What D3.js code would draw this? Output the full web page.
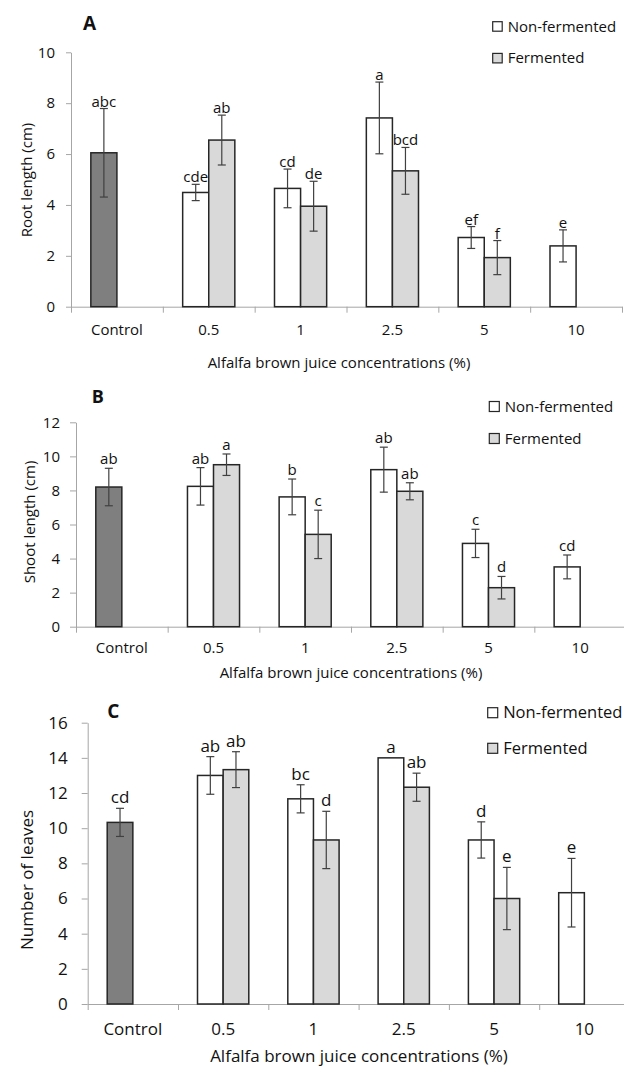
<!DOCTYPE html>
<html>
<head>
<meta charset="utf-8">
<script src="https://cdn.jsdelivr.net/npm/d3@7"></script>
<style>
  body { margin: 0; background: #fff; }
  svg { display: block; font-family: "Open Sans", sans-serif; }
</style>
</head>
<body>
<div id="chart"></div>
<script>
// categories and legend
var categories = ['Control', '0.5', '1', '2.5', '5', '10'];
var seriesNames = ['Non-fermented', 'Fermented'];

// A - root length (cm)
var rootCtrl = [6.05, null, null, null, null, null];
var rootCtrlErr = [1.74, null, null, null, null, null];
var rootCtrlLetters = ['abc', null, null, null, null, null];
var rootNon = [null, 4.49, 4.65, 7.42, 2.72, 2.39];
var rootNonErr = [null, 0.32, 0.76, 1.41, 0.43, 0.63];
var rootNonLetters = [null, 'cde', 'cd', 'a', 'ef', 'e'];
var rootFer = [null, 6.55, 3.95, 5.34, 1.93, null];
var rootFerErr = [null, 0.98, 0.98, 0.92, 0.67, null];
var rootFerLetters = [null, 'ab', 'de', 'bcd', 'f', null];

// B - shoot length (cm)
var shootCtrl = [8.20, null, null, null, null, null];
var shootCtrlErr = [1.10, null, null, null, null, null];
var shootCtrlLetters = ['ab', null, null, null, null, null];
var shootNon = [null, 8.24, 7.62, 9.22, 4.89, 3.51];
var shootNonErr = [null, 1.10, 1.05, 1.32, 0.83, 0.70];
var shootNonLetters = [null, 'ab', 'b', 'ab', 'c', 'cd'];
var shootFer = [null, 9.51, 5.42, 7.95, 2.29, null];
var shootFerErr = [null, 0.63, 1.42, 0.50, 0.66, null];
var shootFerLetters = [null, 'a', 'c', 'ab', 'd', null];

// C - number of leaves
var leafCtrl = [10.33, null, null, null, null, null];
var leafCtrlErr = [0.80, null, null, null, null, null];
var leafCtrlLetters = ['cd', null, null, null, null, null];
var leafNon = [null, 13.0, 11.67, 14.0, 9.33, 6.33];
var leafNonErr = [null, 1.07, 0.80, 0, 1.03, 1.95];
var leafNonLetters = [null, 'ab', 'bc', 'a', 'd', 'e'];
var leafFer = [null, 13.33, 9.33, 12.33, 6.0, null];
var leafFerErr = [null, 1.02, 1.63, 0.80, 1.77, null];
var leafFerLetters = [null, 'ab', 'd', 'ab', 'e', null];

var xTitle = 'Alfalfa brown juice concentrations (%)';

var colors = { ctrl: '#7f7f7f', non: '#ffffff', fer: '#d9d9d9' };
var axisColor = '#a6a6a6';
var barStroke = '#262626';
var errColor = '#404040';
var textColor = '#111';

var panels = [
    {
        label: 'A', yTitle: 'Root length (cm)', yMax: 10,
        ctrl: [rootCtrl, rootCtrlErr, rootCtrlLetters],
        non: [rootNon, rootNonErr, rootNonLetters],
        fer: [rootFer, rootFerErr, rootFerLetters],
        left: 71, right: 622, top: 52.3, bottom: 306.7, fs: 15,
        tickSize: 5, tickPad: 11, catPad: 17.6,
        titleX: 339, titleY: 368, yTitleX: 32, yTitleY: 180,
        labelX: 83, labelY: 30, labelSize: 19,
        legX: 492.7, legY: 21.7, legGap: 31.7, sq: 9.5, legFs: 15, letterGap: 2
    },
    {
        label: 'B', yTitle: 'Shoot length (cm)', yMax: 12,
        ctrl: [shootCtrl, shootCtrlErr, shootCtrlLetters],
        non: [shootNon, shootNonErr, shootNonLetters],
        fer: [shootFer, shootFerErr, shootFerLetters],
        left: 76, right: 626, top: 422.3, bottom: 626.7, fs: 15,
        tickSize: 6, tickPad: 10, catPad: 16,
        titleX: 351, titleY: 678, yTitleX: 35, yTitleY: 522,
        labelX: 91.7, labelY: 403.3, labelSize: 18,
        legX: 489.3, legY: 401.5, legGap: 32, sq: 10, legFs: 15, letterGap: 4
    },
    {
        label: 'C', yTitle: 'Number of leaves', yMax: 16,
        ctrl: [leafCtrl, leafCtrlErr, leafCtrlLetters],
        non: [leafNon, leafNonErr, leafNonLetters],
        fer: [leafFer, leafFerErr, leafFerLetters],
        left: 87.7, right: 629.5, top: 722.7, bottom: 1004, fs: 17,
        tickSize: 6, tickPad: 14, catPad: 19,
        titleX: 359, titleY: 1062, yTitleX: 33, yTitleY: 880,
        labelX: 107.3, labelY: 717.7, labelSize: 19,
        legX: 487.7, legY: 707.7, legGap: 35.6, sq: 10, legFs: 16.5, letterGap: 5
    }
];

var svg = d3.select('#chart')
    .append('svg')
    .attr('width', 624)
    .attr('height', 1068);

function drawPanel(p) {
    var g = svg.append('g');

    var x = d3.scaleBand()
        .domain(categories)
        .range([p.left, p.right])
        .padding(0);
    var y = d3.scaleLinear()
        .domain([0, p.yMax])
        .range([p.bottom, p.top]);
    var barW = x.bandwidth() * 0.284;

    // y axis
    var yAxis = g.append('g')
        .attr('transform', 'translate(' + p.left + ',0)')
        .call(d3.axisLeft(y)
            .tickValues(d3.range(0, p.yMax + 1, 2))
            .tickSize(p.tickSize)
            .tickSizeOuter(0)
            .tickPadding(p.tickPad));
    yAxis.selectAll('line, path').attr('stroke', axisColor);
    yAxis.selectAll('text')
        .attr('font-size', p.fs)
        .attr('font-family', '"Open Sans", sans-serif')
        .attr('fill', textColor);

    // x axis: category labels, and ticks between the bands
    var xAxis = g.append('g')
        .attr('transform', 'translate(0,' + p.bottom + ')')
        .call(d3.axisBottom(x).tickSize(0).tickSizeOuter(0).tickPadding(p.catPad));
    xAxis.select('path').attr('stroke', axisColor);
    xAxis.selectAll('text')
        .attr('font-size', p.fs)
        .attr('font-family', '"Open Sans", sans-serif')
        .attr('fill', textColor);

    var edges = d3.scaleLinear().domain([0, categories.length]).range([p.left, p.right]);
    var edgeAxis = g.append('g')
        .attr('transform', 'translate(0,' + p.bottom + ')')
        .call(d3.axisBottom(edges)
            .tickValues(d3.range(0, categories.length + 1))
            .tickSize(6)
            .tickSizeOuter(0)
            .tickFormat(''));
    edgeAxis.select('path').remove();
    edgeAxis.selectAll('line').attr('stroke', axisColor);

    // bars
    var bars = [];
    [['ctrl', 0], ['non', 0], ['fer', 1]].forEach(function(s) {
        var vals = p[s[0]][0], errs = p[s[0]][1], lets = p[s[0]][2];
        categories.forEach(function(c, i) {
            if (vals[i] === null) return;
            bars.push({ cat: c, value: vals[i], err: errs[i], letter: lets[i],
                        slot: s[1], fill: colors[s[0]] });
        });
    });

    var barX = function(d) {
        return x(d.cat) + x.bandwidth() / 2 - barW + d.slot * barW;
    };

    g.selectAll('rect.bar')
        .data(bars)
        .enter()
        .append('rect')
        .attr('class', 'bar')
        .attr('x', barX)
        .attr('y', function(d) { return y(d.value); })
        .attr('width', barW)
        .attr('height', function(d) { return y(0) - y(d.value); })
        .attr('fill', function(d) { return d.fill; })
        .attr('stroke', barStroke)
        .attr('stroke-width', 1.5);

    // error bars
    var errs = g.selectAll('g.err')
        .data(bars.filter(function(d) { return d.err > 0; }))
        .enter()
        .append('g')
        .attr('class', 'err')
        .attr('stroke', errColor)
        .attr('stroke-width', 1.2);
    errs.append('line')
        .attr('x1', function(d) { return barX(d) + barW / 2; })
        .attr('x2', function(d) { return barX(d) + barW / 2; })
        .attr('y1', function(d) { return y(d.value + d.err); })
        .attr('y2', function(d) { return y(d.value - d.err); });
    [1, -1].forEach(function(sign) {
        errs.append('line')
            .attr('x1', function(d) { return barX(d) + barW / 2 - 4; })
            .attr('x2', function(d) { return barX(d) + barW / 2 + 4; })
            .attr('y1', function(d) { return y(d.value + sign * d.err); })
            .attr('y2', function(d) { return y(d.value + sign * d.err); });
    });

    // significance letters
    g.selectAll('text.letter')
        .data(bars)
        .enter()
        .append('text')
        .attr('class', 'letter')
        .attr('x', function(d) { return barX(d) + barW / 2; })
        .attr('y', function(d) { return y(d.value + (d.err || 0)) - p.letterGap; })
        .attr('text-anchor', 'middle')
        .attr('font-size', p.fs)
        .attr('fill', textColor)
        .text(function(d) { return d.letter; });

    // titles
    g.append('text')
        .attr('x', p.titleX)
        .attr('y', p.titleY)
        .attr('text-anchor', 'middle')
        .attr('font-size', p.fs)
        .attr('fill', textColor)
        .text(xTitle);

    g.append('text')
        .attr('transform', 'translate(' + p.yTitleX + ',' + p.yTitleY + ') rotate(-90)')
        .attr('text-anchor', 'middle')
        .attr('font-size', p.fs)
        .attr('fill', textColor)
        .text(p.yTitle);

    g.append('text')
        .attr('x', p.labelX)
        .attr('y', p.labelY)
        .attr('font-size', p.labelSize)
        .attr('font-weight', 'bold')
        .attr('fill', textColor)
        .text(p.label);

    // legend
    var leg = g.selectAll('g.leg')
        .data(seriesNames)
        .enter()
        .append('g')
        .attr('class', 'leg')
        .attr('transform', function(d, i) {
            return 'translate(' + p.legX + ',' + (p.legY + i * p.legGap) + ')';
        });
    leg.append('rect')
        .attr('width', p.sq)
        .attr('height', p.sq)
        .attr('fill', function(d, i) { return i === 0 ? colors.non : colors.fer; })
        .attr('stroke', barStroke)
        .attr('stroke-width', 1.2);
    leg.append('text')
        .attr('x', p.sq + 5.5)
        .attr('y', p.sq + 0.5)
        .attr('font-size', p.legFs)
        .attr('fill', textColor)
        .text(function(d) { return d; });
}

panels.forEach(drawPanel);
</script>
</body>
</html>
